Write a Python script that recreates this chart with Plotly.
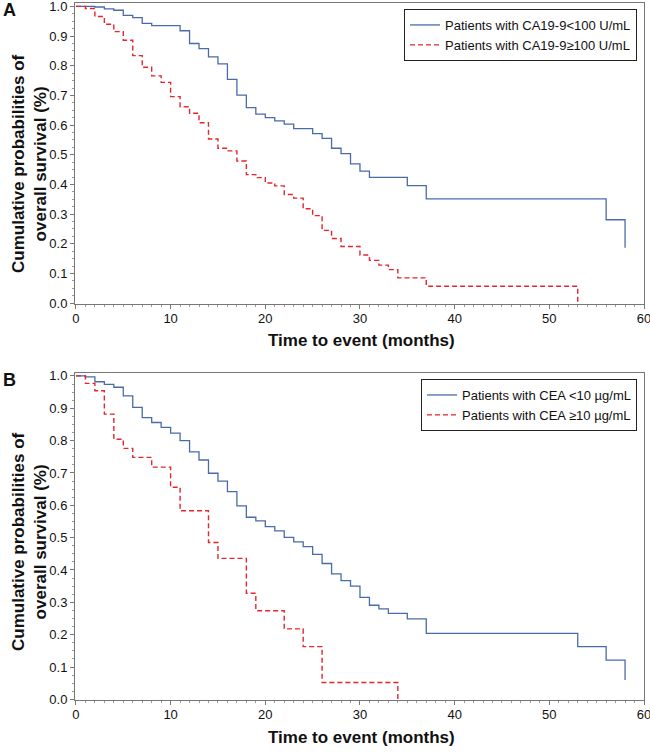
import plotly.graph_objects as go

# ---- Data ----
time_a_low = [0, 2, 3, 4, 5, 6, 7, 8, 11, 12, 13, 14, 15, 16, 17, 18, 19, 20, 21, 22, 23, 25, 26, 27, 28, 29, 30, 31, 35, 37, 56, 58]
surv_a_low = [1.0, 0.998, 0.992, 0.987, 0.970, 0.962, 0.943, 0.935, 0.918, 0.875, 0.858, 0.830, 0.806, 0.754, 0.701, 0.659, 0.637, 0.625, 0.614, 0.603, 0.588, 0.571, 0.555, 0.522, 0.504, 0.469, 0.445, 0.424, 0.396, 0.351, 0.281, 0.187]

time_a_high = [0, 1, 2, 3, 4, 5, 6, 7, 8, 9, 10, 11, 12, 13, 14, 15, 16, 17, 18, 19, 20, 21, 22, 23, 24, 25, 26, 27, 28, 30, 31, 32, 33, 34, 37, 53]
surv_a_high = [1.0, 0.993, 0.966, 0.940, 0.915, 0.886, 0.834, 0.795, 0.766, 0.744, 0.696, 0.662, 0.640, 0.608, 0.553, 0.522, 0.513, 0.479, 0.433, 0.423, 0.405, 0.395, 0.366, 0.354, 0.318, 0.295, 0.245, 0.218, 0.191, 0.162, 0.144, 0.128, 0.113, 0.085, 0.057, 0.0]

time_b_low = [0, 1, 2, 3, 4, 5, 6, 7, 8, 9, 10, 11, 12, 13, 14, 15, 16, 17, 18, 19, 20, 21, 22, 23, 24, 25, 26, 27, 28, 29, 30, 31, 32, 33, 35, 37, 53, 56, 58]
surv_b_low = [1.0, 0.997, 0.982, 0.974, 0.965, 0.938, 0.903, 0.871, 0.856, 0.841, 0.823, 0.800, 0.765, 0.740, 0.699, 0.675, 0.642, 0.598, 0.563, 0.552, 0.534, 0.521, 0.501, 0.487, 0.472, 0.448, 0.420, 0.388, 0.367, 0.350, 0.315, 0.291, 0.280, 0.266, 0.249, 0.204, 0.163, 0.121, 0.060]

time_b_high = [0, 1, 2, 3, 4, 5, 6, 8, 10, 11, 14, 15, 18, 19, 22, 24, 26, 34]
surv_b_high = [1.0, 0.977, 0.954, 0.882, 0.804, 0.776, 0.748, 0.718, 0.656, 0.583, 0.485, 0.436, 0.328, 0.274, 0.218, 0.163, 0.052, 0.0]

names_a = ["Patients with CA19-9<100 U/mL", "Patients with CA19-9\u2265100 U/mL"]
names_b = ["Patients with CEA <10 \u00b5g/mL", "Patients with CEA \u226510 \u00b5g/mL"]

x_ticks = [0, 10, 20, 30, 40, 50, 60]
y_ticks = [0.0, 0.1, 0.2, 0.3, 0.4, 0.5, 0.6, 0.7, 0.8, 0.9, 1.0]
y_ticktext = [f"{v:.1f}" for v in y_ticks]

x_title = "Time to event (months)"
y_title = "Cumulative probabilities of<br>overall survival (%)"

BLUE = "#4A6BA8"
RED = "#E3262E"
FONT = "Liberation Sans, Arial, sans-serif"
W, H = 650, 752

fig = go.Figure()

fig.add_trace(go.Scatter(x=time_a_low, y=surv_a_low, mode="lines", line=dict(color=BLUE, width=1.3, shape="hv"),
                         name=names_a[0], xaxis="x", yaxis="y", legend="legend"))
fig.add_trace(go.Scatter(x=time_a_high, y=surv_a_high, mode="lines", line=dict(color=RED, width=1.4, shape="hv", dash="5px,3px"),
                         name=names_a[1], xaxis="x", yaxis="y", legend="legend"))
fig.add_trace(go.Scatter(x=time_b_low, y=surv_b_low, mode="lines", line=dict(color=BLUE, width=1.3, shape="hv"),
                         name=names_b[0], xaxis="x2", yaxis="y2", legend="legend2"))
fig.add_trace(go.Scatter(x=time_b_high, y=surv_b_high, mode="lines", line=dict(color=RED, width=1.4, shape="hv", dash="5px,3px"),
                         name=names_b[1], xaxis="x2", yaxis="y2", legend="legend2"))

def px_x(p):
    return p / W

def px_y(p):
    return 1 - p / H

xdom = [px_x(75), px_x(644)]
axis_common = dict(showline=True, linecolor="#777", linewidth=1, mirror=True, showgrid=False, zeroline=False,
                   ticks="outside", ticklen=4, tickcolor="#777", automargin=False, ticklabeloverflow="allow",
                   tickfont=dict(family=FONT, size=13, color="#111"))

xa = dict(axis_common, range=[-0.1, 60.0], tickvals=x_ticks, ticktext=[str(v) for v in x_ticks],
          ticklabelstandoff=-2,
          minor=dict(ticks="outside", ticklen=2, dtick=1, tickcolor="#999"))
ya = dict(axis_common, tickvals=y_ticks, ticktext=y_ticktext,
          minor=dict(ticks="outside", ticklen=2, dtick=0.025, tickcolor="#999"))

fig.update_layout(
    width=W, height=H, margin=dict(l=0, r=0, t=0, b=0, autoexpand=False),
    paper_bgcolor="white", plot_bgcolor="white",
    font=dict(family=FONT, color="#111"),
    xaxis=dict(xa, domain=xdom, anchor="y"),
    yaxis=dict(ya, domain=[px_y(304), px_y(3)], range=[-0.003, 1.0115], anchor="x"),
    xaxis2=dict(xa, domain=xdom, anchor="y2"),
    yaxis2=dict(ya, domain=[px_y(700), px_y(373)], range=[-0.002, 1.009], anchor="x2"),
    legend=dict(x=px_x(637), y=px_y(9), xanchor="right", yanchor="top", bordercolor="#222", borderwidth=1,
                bgcolor="white", font=dict(family=FONT, size=13, color="#111"), itemwidth=30,
                tracegroupgap=0, traceorder="normal"),
    legend2=dict(x=px_x(637), y=px_y(379), xanchor="right", yanchor="top", bordercolor="#222", borderwidth=1,
                 bgcolor="white", font=dict(family=FONT, size=13, color="#111"), itemwidth=30,
                 tracegroupgap=0, traceorder="normal"),
    showlegend=True,
)

annos = [
    dict(text="<b>A</b>", x=px_x(1), y=px_y(10), xanchor="left", yanchor="middle", font=dict(size=18)),
    dict(text="<b>B</b>", x=px_x(1), y=px_y(380), xanchor="left", yanchor="middle", font=dict(size=18)),
    dict(text=f"<b>{x_title}</b>", x=px_x(361), y=px_y(340), xanchor="center", yanchor="middle", font=dict(size=17)),
    dict(text=f"<b>{x_title}</b>", x=px_x(361), y=px_y(737), xanchor="center", yanchor="middle", font=dict(size=17)),
    dict(text=f"<b>{y_title}</b>", x=px_x(29), y=px_y(164), xanchor="center", yanchor="middle", textangle=-90, font=dict(size=17)),
    dict(text=f"<b>{y_title}</b>", x=px_x(29), y=px_y(542), xanchor="center", yanchor="middle", textangle=-90, font=dict(size=17)),
]
for a in annos:
    a.update(xref="paper", yref="paper", showarrow=False)
    a["font"] = dict(a["font"], family=FONT, color="#111")
fig.update_layout(annotations=annos)

fig.write_html("out.html", config={"displayModeBar": False},
               post_script="document.body.style.margin='0';document.body.style.overflow='hidden';")
